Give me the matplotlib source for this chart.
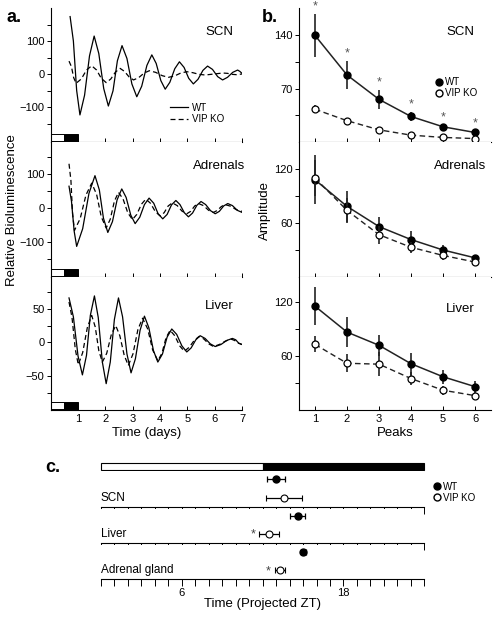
import matplotlib
matplotlib.use("Agg")
import matplotlib.pyplot as plt
from matplotlib.lines import Line2D
from matplotlib.ticker import MultipleLocator, FixedLocator

plt.rcParams['font.family'] = ['Liberation Sans', 'DejaVu Sans']

# ---- panel a: detrended bioluminescence traces (days, relative units)
scn_wt_t = [0.71, 0.83, 0.95, 1.07, 1.24, 1.42, 1.59, 1.76, 1.94, 2.11, 2.28, 2.44, 2.61, 2.79, 2.97,
            3.15, 3.33, 3.52, 3.70, 3.86, 4.03, 4.19, 4.36, 4.54, 4.71, 4.88, 5.05, 5.22, 5.39, 5.57,
            5.74, 5.92, 6.11, 6.29, 6.47, 6.66, 6.84, 6.92, 7.0]
scn_wt_v = [174, 100, -50, -124, -64, 55, 115, 62, -44, -97, -51, 40, 86, 47, -30,
            -69, -37, 26, 58, 32, -20, -46, -25, 16, 37, 20, -13, -30, -16, 11,
            24, 14, -8, -18, -10, 5, 12, 8, 2]
scn_ko_t = [0.67, 0.76, 0.84, 0.93, 1.12, 1.31, 1.5, 1.68, 1.85, 2.03, 2.2, 2.37, 2.54, 2.70, 2.87,
            3.03, 3.22, 3.42, 3.61, 3.84, 4.08, 4.31, 4.53, 4.76, 4.98, 5.2, 5.43, 5.65, 5.87, 6.08,
            6.3, 6.47, 6.63, 6.8, 7.0]
scn_ko_v = [39, 22, -11, -28, -15, 12, 25, 12, -13, -26, -15, 6, 17, 8, -9,
            -18, -11, 3, 10, 5, -5, -10, -6, 3, 7, 4, -1, -3, -1, 1,
            3, 2, -1, -2, 0]
adr_wt_t = [0.67, 0.76, 0.86, 0.95, 1.17, 1.40, 1.62, 1.78, 1.93, 2.09, 2.26, 2.43, 2.6, 2.76, 2.93,
            3.09, 3.26, 3.43, 3.6, 3.77, 3.93, 4.1, 4.26, 4.42, 4.58, 4.73, 4.89, 5.04, 5.19, 5.35,
            5.5, 5.67, 5.85, 6.02, 6.17, 6.33, 6.48, 6.65, 6.83, 7.0]
adr_wt_v = [64, 20, -69, -113, -61, 43, 95, 53, -30, -72, -40, 24, 56, 31, -21,
            -46, -27, 10, 29, 14, -17, -32, -19, 9, 22, 10, -14, -26, -15, 8,
            19, 10, -8, -17, -10, 6, 13, 7, -7, -13]
adr_ko_t = [0.67, 0.74, 0.80, 0.87, 1.08, 1.29, 1.5, 1.68, 1.85, 2.03, 2.18, 2.33, 2.48, 2.65, 2.82,
            2.99, 3.15, 3.32, 3.48, 3.65, 3.83, 4.0, 4.15, 4.3, 4.45, 4.63, 4.8, 4.98, 5.12, 5.27,
            5.41, 5.59, 5.78, 5.96, 6.1, 6.24, 6.38, 6.59, 6.79, 7.0]
adr_ko_v = [130, 81, -17, -66, -31, 38, 73, 40, -26, -59, -33, 20, 46, 26, -14,
            -34, -19, 11, 26, 14, -11, -23, -14, 6, 15, 7, -9, -17, -10, 6,
            13, 7, -7, -13, -7, 4, 10, 5, -5, -10]
liv_wt_t = [0.67, 0.83, 1.0, 1.16, 1.31, 1.45, 1.6, 1.74, 1.89, 2.03, 2.18, 2.33, 2.48, 2.63, 2.79,
            2.94, 3.10, 3.27, 3.43, 3.59, 3.76, 3.92, 4.09, 4.26, 4.43, 4.61, 4.8, 4.98, 5.14, 5.31,
            5.47, 5.65, 5.84, 6.02, 6.23, 6.44, 6.65, 6.77, 6.88, 7.0]
liv_wt_v = [66, 38, -20, -48, -19, 40, 69, 37, -29, -61, -29, 34, 66, 38, -17,
            -45, -24, 18, 39, 22, -12, -29, -17, 8, 20, 12, -5, -14, -8, 4,
            10, 6, -2, -6, -3, 3, 6, 4, -1, -3]
liv_ko_t = [0.67, 0.78, 0.90, 1.01, 1.17, 1.34, 1.5, 1.63, 1.76, 1.89, 2.05, 2.22, 2.38, 2.53, 2.69,
            2.84, 3.01, 3.19, 3.36, 3.55, 3.73, 3.92, 4.07, 4.22, 4.37, 4.54, 4.72, 4.89, 5.07, 5.25,
            5.43, 5.61, 5.78, 5.96, 6.17, 6.39, 6.6, 6.73, 6.87, 7.0]
liv_ko_v = [60, 37, -10, -33, -15, 22, 40, 23, -12, -29, -16, 12, 25, 10, -19,
            -34, -17, 19, 36, 20, -11, -27, -16, 7, 18, 10, -5, -13, -7, 3,
            9, 5, -2, -6, -3, 2, 5, 3, -1, -3]
light_dark = [(0.0, 0.5, 'white'), (0.5, 1.0, 'black')]  # day 1 LD bar

# ---- panel b: peak amplitudes (mean, sem)
peaks = [1, 2, 3, 4, 5, 6]
amp_scn_wt = [140, 88, 56, 33.5, 20, 12.5]
err_scn_wt = [28, 18, 12, 6, 3, 2]
amp_scn_ko = [43, 28, 16, 9, 6, 4.5]
err_scn_ko = [5, 3, 2, 1, 1, 1]
amp_adr_wt = [108, 78.5, 56, 41.6, 30, 21.3]
err_adr_wt = [27, 17, 11, 9, 5, 3]
amp_adr_ko = [110, 74, 47, 33, 24, 16.6]
err_adr_ko = [20, 14, 10, 6, 5, 3]
amp_liv_wt = [115.5, 86.7, 72, 51.5, 37, 26]
err_liv_wt = [21, 17, 12, 12, 8, 6]
amp_liv_ko = [73, 52, 51, 35, 22, 16]
err_liv_ko = [9, 10, 13, 7, 5, 4]
scn_signif = [True, True, True, True, True, True]

# ---- panel c: projected phase (ZT, mean +/- sem)
phase_tissues = ['SCN', 'Liver', 'Adrenal gland']
phase_wt = [13.0, 14.6, 15.03]
phase_wt_err = [0.65, 0.55, 0.2]
phase_ko = [13.6, 12.5, 13.28]
phase_ko_err = [1.36, 0.74, 0.37]
phase_star = [None, 11.3, 12.45]
ld_zt = [(0, 12, 'white'), (12, 24, 'black')]

W, H = 498, 618
fig = plt.figure(figsize=(W / 100, H / 100), dpi=100)


def box(x0, y0, x1, y1):
    return [x0 / W, 1 - y1 / H, (x1 - x0) / W, (y1 - y0) / H]


FS_TICK = 8
FS_LAB = 9.5

# ================= panel a
a_rows = [(8, 142), (142, 277), (277, 410)]
a_data = [(scn_wt_t, scn_wt_v, scn_ko_t, scn_ko_v, 'SCN', (-206, 200), [-100, 0, 100], [-150, -50, 50, 150]),
          (adr_wt_t, adr_wt_v, adr_ko_t, adr_ko_v, 'Adrenals', (-203, 194), [-100, 0, 100], [-150, -50, 50, 150]),
          (liv_wt_t, liv_wt_v, liv_ko_t, liv_ko_v, 'Liver', (-100, 97), [-50, 0, 50], [-75, -25, 25, 75])]
a_axes = []
for i, ((y0, y1), (tw, vw, tk, vk, name, yl, maj, mnr)) in enumerate(zip(a_rows, a_data)):
    ax = fig.add_axes(box(50.7, y0, 242, y1))
    ax.plot(tw, vw, color='k', lw=0.9)
    ax.plot(tk, vk, color='k', lw=0.9, ls=(0, (4, 2.5)))
    for s, e, c in light_dark:
        ax.axvspan(s, e, ymin=0.005, ymax=0.06, facecolor=c, edgecolor='k', lw=0.7, clip_on=False)
    ax.set_xlim(0, 7)
    ax.set_ylim(*yl)
    ax.yaxis.set_major_locator(FixedLocator(maj))
    ax.yaxis.set_minor_locator(FixedLocator(mnr))
    ax.set_xticks(range(1, 8))
    for s in ['top', 'right']:
        ax.spines[s].set_visible(False)
    ax.spines['left'].set_linewidth(0.8)
    ax.spines['bottom'].set_linewidth(0.8)
    ax.tick_params(axis='y', which='both', direction='out', length=3, width=0.7, labelsize=FS_TICK, pad=1.5)
    ax.tick_params(axis='x', direction='in', length=3, width=0.7, labelsize=FS_TICK, pad=3)
    ax.text(0.88, 0.82 if i < 2 else 0.78, name, transform=ax.transAxes, ha='center', va='center', fontsize=FS_LAB)
    if i < 2:
        ax.tick_params(axis='x', labelbottom=False)
    a_axes.append(ax)
a_axes[-1].set_xlabel('Time (days)', fontsize=FS_LAB, labelpad=2)
a_axes[0].legend([Line2D([], [], color='k', lw=0.9), Line2D([], [], color='k', lw=0.9, ls=(0, (4, 2.5)))],
                 ['WT', 'VIP KO'], loc='upper left', bbox_to_anchor=(0.6, 0.33), frameon=False,
                 fontsize=7, handlelength=1.8, handletextpad=0.4, labelspacing=0.15, borderpad=0)
fig.text(12 / W, 1 - 210 / H, 'Relative Bioluminescence', rotation=90, ha='center', va='center', fontsize=FS_LAB)
fig.text(6 / W, 1 - 18 / H, 'a.', fontsize=13, fontweight='bold', va='center')

# ================= panel b
b_data = [(amp_scn_wt, err_scn_wt, amp_scn_ko, err_scn_ko, 'SCN', (0, 176), 70, 35),
          (amp_adr_wt, err_adr_wt, amp_adr_ko, err_adr_ko, 'Adrenals', (0, 150), 60, 30),
          (amp_liv_wt, err_liv_wt, amp_liv_ko, err_liv_ko, 'Liver', (0, 148), 60, 30)]
b_axes = []
for i, ((y0, y1), (mw, ew, mk, ek, name, yl, maj, mnr)) in enumerate(zip(a_rows, b_data)):
    ax = fig.add_axes(box(299, y0, 491, y1))
    ax.errorbar(peaks, mw, yerr=ew, fmt='o-', color='#222222', mfc='k', mec='k', ms=5,
                lw=1.1, elinewidth=1.2, ecolor='#222222', capsize=0, zorder=2)
    ax.errorbar(peaks, mk, yerr=ek, fmt='o', color='#222222', mfc='white', mec='k', ms=5,
                mew=0.9, elinewidth=1.2, ecolor='#222222', capsize=0, zorder=3)
    ax.plot(peaks, mk, color='#222222', lw=1.0, ls=(0, (4, 2.5)), zorder=2.5)
    ax.set_xlim(0.5, 6.5)
    ax.set_ylim(*yl)
    ax.yaxis.set_major_locator(FixedLocator([maj, 2 * maj]))
    ax.yaxis.set_minor_locator(FixedLocator([mnr, 3 * mnr]))
    ax.set_xticks(peaks)
    for s in ['top', 'right']:
        ax.spines[s].set_visible(False)
    ax.spines['left'].set_linewidth(0.8)
    ax.spines['bottom'].set_linewidth(0.8)
    ax.tick_params(axis='y', which='both', direction='out', length=3, width=0.7, labelsize=FS_TICK, pad=1.5)
    ax.tick_params(axis='x', direction='in', length=3, width=0.7, labelsize=FS_TICK, pad=3)
    ax.text(0.84, 0.82 if i < 2 else 0.76, name, transform=ax.transAxes, ha='center', va='center', fontsize=FS_LAB)
    if i < 2:
        ax.tick_params(axis='x', labelbottom=False)
    b_axes.append(ax)
for p, m, e, sig in zip(peaks, amp_scn_wt, err_scn_wt, scn_signif):
    if sig:
        b_axes[0].annotate('*', (p, m + e), xytext=(0, 1), textcoords='offset points',
                           ha='center', va='bottom', fontsize=9, color='#555555', annotation_clip=False)
b_axes[-1].set_xlabel('Peaks', fontsize=FS_LAB, labelpad=2)
b_axes[0].legend([Line2D([], [], marker='o', ls='none', mfc='k', mec='k', ms=5),
                  Line2D([], [], marker='o', ls='none', mfc='white', mec='k', ms=5)],
                 ['WT', 'VIP KO'], loc='upper left', bbox_to_anchor=(0.69, 0.52), frameon=False,
                 fontsize=7, handlelength=0.6, handletextpad=0.3, labelspacing=0.1, borderpad=0)
fig.text(265 / W, 1 - 210 / H, 'Amplitude', rotation=90, ha='center', va='center', fontsize=FS_LAB)
fig.text(262 / W, 1 - 18 / H, 'b.', fontsize=13, fontweight='bold', va='center')

# ================= panel c
axbar = fig.add_axes(box(100.9, 462.7, 424.3, 470))
for s, e, c in ld_zt:
    axbar.barh(0, e - s, left=s, height=1, color=c, edgecolor='k', lw=0.8, clip_on=False)
axbar.set_xlim(0, 24)
axbar.set_ylim(-0.5, 0.5)
axbar.axis('off')

c_rows = [(471, 507.3), (509, 542.7), (545, 579.3)]
c_axes = []
for i, ((y0, y1), name) in enumerate(zip(c_rows, phase_tissues)):
    ax = fig.add_axes(box(100.9, y0, 424.3, y1))
    ax.errorbar([phase_wt[i]], [1], xerr=[phase_wt_err[i]], fmt='o', color='k', mfc='k', mec='k',
                ms=5, elinewidth=0.9, capsize=2.5, capthick=0.9)
    ax.errorbar([phase_ko[i]], [0], xerr=[phase_ko_err[i]], fmt='o', color='k', mfc='white', mec='k',
                ms=5, mew=0.8, elinewidth=0.9, capsize=2.5, capthick=0.9, zorder=3)
    if phase_star[i] is not None:
        ax.text(phase_star[i], -0.05, '*', ha='center', va='center', fontsize=9, color='#444444')
    ax.text(0, 0, name, ha='left', va='center', fontsize=8.5)
    ax.set_xlim(0, 24)
    ax.set_ylim(-0.5, 1.4)
    for s in ['top', 'right', 'left']:
        ax.spines[s].set_visible(False)
    ax.spines['bottom'].set_linewidth(0.8)
    ax.set_yticks([])
    ax.xaxis.set_major_locator(FixedLocator([6, 18]))
    ax.xaxis.set_minor_locator(MultipleLocator(1))
    ax.tick_params(axis='x', which='both', direction='out', length=5, width=0.7, labelsize=FS_TICK, pad=1)
    if i < 2:
        ax.tick_params(axis='x', labelbottom=False)
    c_axes.append(ax)
c_axes[-1].set_xlabel('Time (Projected ZT)', fontsize=FS_LAB, labelpad=0)
fig.legend([Line2D([], [], marker='o', ls='none', mfc='k', mec='k', ms=5),
            Line2D([], [], marker='o', ls='none', mfc='white', mec='k', ms=5)],
           ['WT', 'VIP KO'], loc='upper left', bbox_to_anchor=(429 / W, 1 - 477 / H), frameon=False,
           fontsize=7, handlelength=0.6, handletextpad=0.3, labelspacing=0.1, borderpad=0)
fig.text(45 / W, 1 - 467 / H, 'c.', fontsize=13, fontweight='bold', va='center')

fig.savefig('out.png', dpi=100)
